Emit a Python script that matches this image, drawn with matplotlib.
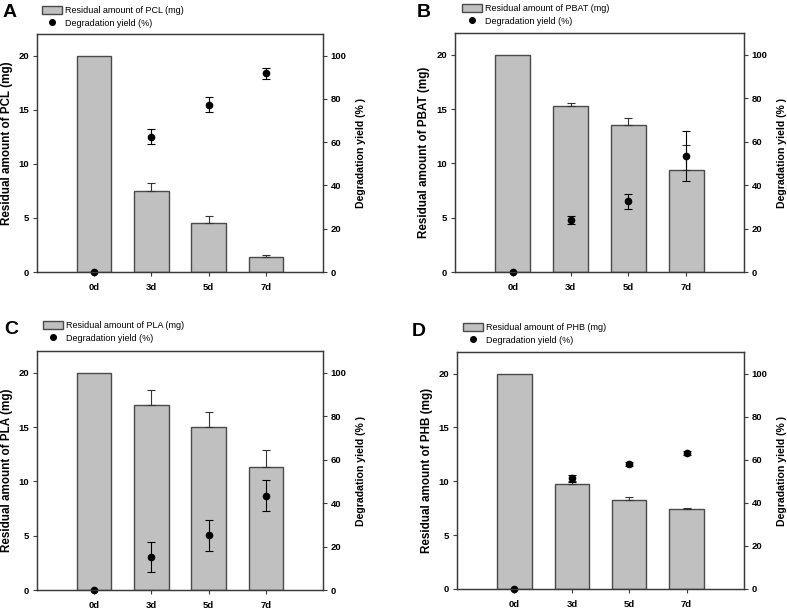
import matplotlib
matplotlib.use("Agg")
import matplotlib.pyplot as plt
import numpy as np

plt.rcParams["font.family"] = ["Liberation Sans", "DejaVu Sans"]

days = ["0d", "3d", "5d", "7d"]

pcl_mass = [20, 7.45, 4.5, 1.36]
pcl_mass_err = [0, 0.75, 0.65, 0.2]
pcl_yield = [0, 62.6, 77.4, 91.8]
pcl_yield_err = [0, 3.6, 3.5, 2.5]

pbat_mass = [20, 15.25, 13.5, 9.35]
pbat_mass_err = [0, 0.32, 0.7, 2.3]
pbat_yield = [0, 23.8, 32.6, 53.4]
pbat_yield_err = [0, 1.8, 3.5, 11.6]

pla_mass = [20, 17.0, 15.05, 11.36]
pla_mass_err = [0, 1.45, 1.35, 1.55]
pla_yield = [0, 15.1, 25.1, 43.4]
pla_yield_err = [0, 7.0, 7.0, 7.2]

phb_mass = [20, 9.78, 8.3, 7.38]
phb_mass_err = [0, 0.25, 0.25, 0.15]
phb_yield = [0, 51.3, 58.1, 63.1]
phb_yield_err = [0, 1.5, 1.0, 0.8]

W, H = 787, 611
BAR_FACE = "#c0c0c0"
EDGE = "#4a4a4a"
SPINE = "#3a3a3a"


def rect(l, t, r, b):
    return [l / W, 1 - b / H, (r - l) / W, (b - t) / H]


def draw_panel(fig, box, letter, letter_xy, polymer, mass, mass_err,
               yld, yld_err, leg_xy, ylab_y):
    ax = fig.add_axes(rect(*box))
    x = np.arange(1, len(days) + 1)

    bars = ax.bar(x, mass, width=0.6, color=BAR_FACE, edgecolor=EDGE,
                  linewidth=1.0, zorder=2)
    err = np.array(mass_err)
    keep = err > 0
    ax.errorbar(x[keep], np.array(mass)[keep],
                yerr=[np.zeros(keep.sum()), err[keep]],
                fmt="none", ecolor="#333333", elinewidth=0.8,
                capsize=3, capthick=0.8, zorder=3)

    ax.set_xlim(0, 5)
    ax.set_ylim(0, 22)
    ax.set_yticks([0, 5, 10, 15, 20])
    ax.set_xticks(x)
    ax.set_xticklabels(days)

    ax2 = ax.twinx()
    ax2.set_ylim(0, 110)
    ax2.set_yticks([0, 20, 40, 60, 80, 100])
    pts = ax2.errorbar(x, yld, yerr=np.array(yld_err), fmt="o",
                       color="black", ms=4.5, elinewidth=0.8, capsize=3,
                       capthick=0.8)
    pts.lines[0].set_clip_on(False)

    for a in (ax, ax2):
        for s in a.spines.values():
            s.set_color(SPINE)
            s.set_linewidth(0.9)
        a.tick_params(direction="out", length=3, width=0.8, color=SPINE,
                      labelsize=6.8, pad=2.5)
        for lab in a.get_xticklabels() + a.get_yticklabels():
            lab.set_fontweight("bold")
    ax.tick_params(axis="x", pad=5)

    ax.set_ylabel("Residual amount of %s (mg)" % polymer,
                  fontsize=8.4, fontweight="bold")
    ax.yaxis.set_label_coords(-0.085, ylab_y)
    ax2.set_ylabel("Degradation yield (% )", fontsize=7.6, fontweight="bold")
    ax2.yaxis.set_label_coords(1.115, 0.5)

    fig.text(letter_xy[0] / W, 1 - letter_xy[1] / H, letter,
             fontsize=14, fontweight="bold", va="top", ha="left")

    ax.legend([bars, pts.lines[0]],
              ["Residual amount of %s (mg)" % polymer,
               "Degradation yield (%)"],
              loc="upper left",
              bbox_to_anchor=(leg_xy[0] / W, 1 - leg_xy[1] / H),
              bbox_transform=fig.transFigure,
              frameon=False, fontsize=6.5, handlelength=2.2,
              handleheight=0.9, handletextpad=0.3, labelspacing=0.4,
              borderpad=0, borderaxespad=0, markerscale=0.9)
    return ax, ax2


fig = plt.figure(figsize=(W / 100, H / 100), dpi=100)

draw_panel(fig, (37, 34, 323, 272), "A", (3, 4), "PCL",
           pcl_mass, pcl_mass_err, pcl_yield, pcl_yield_err, (42, 6), 0.54)
draw_panel(fig, (455, 33, 744, 272), "B", (417, 4), "PBAT",
           pbat_mass, pbat_mass_err, pbat_yield, pbat_yield_err, (462, 4), 0.5)
draw_panel(fig, (37, 351, 323, 590), "C", (4, 321), "PLA",
           pla_mass, pla_mass_err, pla_yield, pla_yield_err, (43, 321), 0.5)
draw_panel(fig, (457, 352, 744, 589), "D", (412, 323), "PHB",
           phb_mass, phb_mass_err, phb_yield, phb_yield_err, (463, 323), 0.5)

fig.savefig("out.png", dpi=100)
plt.close(fig)
